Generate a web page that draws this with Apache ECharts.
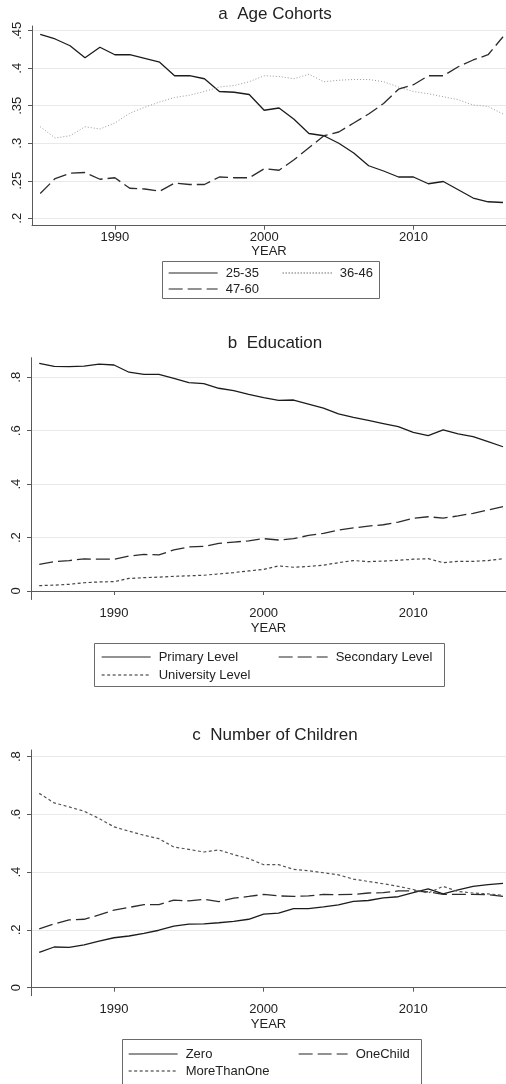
<!DOCTYPE html>
<html>
<head>
<meta charset="utf-8">
<script src="https://cdn.jsdelivr.net/npm/echarts@6/dist/echarts.min.js"></script>
<style>
  html, body { margin: 0; padding: 0; background: #fff; }
  #chart { width: 506px; height: 1084px; }
</style>
</head>
<body>
<div id="chart"></div>
<script>
// Survey years shared by all three panels
const years = [1985, 1986, 1987, 1988, 1989, 1990, 1991, 1992, 1993, 1994, 1995,
  1996, 1997, 1998, 1999, 2000, 2001, 2002, 2003, 2004, 2005, 2006, 2007, 2008,
  2009, 2010, 2011, 2012, 2013, 2014, 2015, 2016];

// Panel a: age cohorts (shares)
const age25to35 = [0.445, 0.439, 0.430, 0.414, 0.428, 0.418, 0.418, 0.413, 0.408, 0.390, 0.390,
  0.386, 0.369, 0.368, 0.365, 0.344, 0.347, 0.332, 0.313, 0.310, 0.300, 0.287, 0.270, 0.263,
  0.255, 0.255, 0.246, 0.249, 0.238, 0.227, 0.222, 0.221];
const age36to46 = [0.322, 0.307, 0.310, 0.322, 0.319, 0.327, 0.340, 0.348, 0.355, 0.361, 0.364,
  0.369, 0.375, 0.377, 0.382, 0.390, 0.389, 0.386, 0.392, 0.382, 0.384, 0.385, 0.385, 0.382,
  0.375, 0.369, 0.366, 0.362, 0.358, 0.351, 0.349, 0.339];
const age47to60 = [0.233, 0.253, 0.260, 0.261, 0.252, 0.254, 0.240, 0.239, 0.236, 0.247, 0.245,
  0.245, 0.255, 0.254, 0.254, 0.266, 0.264, 0.278, 0.294, 0.310, 0.315, 0.327, 0.339, 0.353,
  0.372, 0.378, 0.390, 0.390, 0.402, 0.411, 0.418, 0.442];

// Panel b: education level (shares)
const eduPrimary = [0.852, 0.841, 0.840, 0.842, 0.849, 0.846, 0.819, 0.811, 0.811, 0.796, 0.780,
  0.776, 0.759, 0.750, 0.736, 0.724, 0.714, 0.715, 0.700, 0.685, 0.663, 0.650, 0.639, 0.627,
  0.615, 0.594, 0.582, 0.603, 0.588, 0.578, 0.559, 0.540];
const eduSecondary = [0.100, 0.110, 0.114, 0.120, 0.119, 0.119, 0.131, 0.137, 0.135, 0.154, 0.165,
  0.167, 0.178, 0.183, 0.188, 0.196, 0.191, 0.196, 0.208, 0.216, 0.228, 0.236, 0.243, 0.248,
  0.258, 0.272, 0.278, 0.273, 0.281, 0.291, 0.303, 0.316];
const eduUniversity = [0.020, 0.022, 0.025, 0.031, 0.034, 0.035, 0.047, 0.050, 0.052, 0.055, 0.057,
  0.059, 0.064, 0.069, 0.075, 0.081, 0.094, 0.089, 0.092, 0.097, 0.106, 0.114, 0.110, 0.112,
  0.115, 0.119, 0.121, 0.106, 0.111, 0.111, 0.114, 0.121];

// Panel c: number of children (shares)
const kidsZero = [0.122, 0.141, 0.140, 0.148, 0.161, 0.173, 0.179, 0.188, 0.199, 0.213, 0.220,
  0.221, 0.225, 0.230, 0.237, 0.255, 0.258, 0.274, 0.274, 0.280, 0.287, 0.299, 0.302, 0.311,
  0.315, 0.329, 0.342, 0.325, 0.339, 0.351, 0.357, 0.361];
const kidsOne = [0.204, 0.221, 0.235, 0.237, 0.252, 0.269, 0.278, 0.288, 0.288, 0.303, 0.301,
  0.306, 0.298, 0.310, 0.316, 0.323, 0.318, 0.316, 0.318, 0.323, 0.322, 0.323, 0.328, 0.329,
  0.335, 0.335, 0.332, 0.323, 0.323, 0.323, 0.322, 0.316];
const kidsMore = [0.673, 0.640, 0.626, 0.611, 0.586, 0.557, 0.542, 0.528, 0.516, 0.487, 0.479,
  0.470, 0.477, 0.461, 0.447, 0.426, 0.426, 0.410, 0.405, 0.398, 0.391, 0.376, 0.368, 0.360,
  0.351, 0.340, 0.328, 0.351, 0.333, 0.328, 0.325, 0.320];

// Tick labels
const yearTicks = [1990, 2000, 2010];
const ageTicks = [0.2, 0.25, 0.3, 0.35, 0.4, 0.45];
const shareTicks = [0, 0.2, 0.4, 0.6, 0.8];

const FONT = '"Liberation Sans", Arial, Helvetica, sans-serif';
const AXIS_COLOR = '#5a5a5a';
const TEXT_COLOR = '#222';

function pairs(vals) {
  return years.map((y, i) => [y, vals[i]]);
}

function stataNum(v) {
  // Stata style: drop the leading zero (".25")
  return String(v).replace(/^0\./, '.');
}

function xAxisFor(gridIndex, labelMargin, nameGap) {
  return {
    type: 'value', gridIndex,
    min: 1984.45, max: 2016.2,
    name: 'YEAR', nameLocation: 'middle', nameGap,
    nameTextStyle: { fontFamily: FONT, fontSize: 13, color: TEXT_COLOR },
    axisLine: { show: true, lineStyle: { color: AXIS_COLOR, width: 1 } },
    axisTick: { show: true, length: 4, customValues: yearTicks, lineStyle: { color: AXIS_COLOR } },
    axisLabel: {
      customValues: yearTicks, margin: labelMargin,
      fontFamily: FONT, fontSize: 13, color: TEXT_COLOR,
      formatter: (v) => String(v)
    },
    splitLine: { show: false }
  };
}

function yAxisFor(gridIndex, min, max, ticks) {
  return {
    type: 'value', gridIndex, min, max,
    axisLine: { show: true, lineStyle: { color: AXIS_COLOR, width: 1 } },
    axisTick: { show: true, length: 4, customValues: ticks, lineStyle: { color: AXIS_COLOR } },
    axisLabel: {
      customValues: ticks, rotate: 90, margin: 8,
      fontFamily: FONT, fontSize: 13, color: TEXT_COLOR,
      formatter: stataNum
    },
    splitLine: { show: true, lineStyle: { color: '#e9e9e9', width: 1 } }
  };
}

function lineSeries(name, vals, axisIndex, color, width, dash) {
  return {
    type: 'line', name,
    xAxisIndex: axisIndex, yAxisIndex: axisIndex,
    data: pairs(vals),
    symbol: 'none', smooth: false, animation: false,
    lineStyle: { color, width, type: dash },
    itemStyle: { color }
  };
}

function legendFor(names, left, top, gap) {
  return {
    data: names, orient: 'vertical', left, top,
    padding: 0, itemGap: gap, itemWidth: 49, itemHeight: 14,
    selectedMode: false,
    // line-only keys in a softer grey; hide the marker in the middle of each key
    itemStyle: { opacity: 0 },
    lineStyle: { color: '#6e6e6e', width: 1.3 },
    textStyle: { fontFamily: FONT, fontSize: 13, color: TEXT_COLOR, lineHeight: 14, padding: [0, 0, 0, 3] }
  };
}

function titleFor(text, top) {
  return {
    text, left: 275, top, textAlign: 'center', padding: 0,
    textStyle: { fontFamily: FONT, fontSize: 17, fontWeight: 'normal', color: TEXT_COLOR, lineHeight: 20 }
  };
}

function frame(x, y, w, h) {
  return {
    type: 'rect', shape: { x, y, width: w, height: h },
    style: { fill: 'none', stroke: '#6a6a6a', lineWidth: 1 }, silent: true
  };
}

const SOLID = '#1c1c1c';
const DASHED = '#2c2c2c';
const LONG_DASH = [14, 5];
const SHORT_DASH = [3, 2.5];

const option = {
  backgroundColor: '#fff',
  animation: false,
  title: [
    titleFor('a  Age Cohorts', 4),
    titleFor('b  Education', 333),
    titleFor('c  Number of Children', 725)
  ],
  grid: [
    { left: 32, top: 26, width: 474, height: 199.7 },
    { left: 31, top: 357.7, width: 475, height: 241.8 },
    { left: 31, top: 750, width: 475, height: 245.7 }
  ],
  xAxis: [
    xAxisFor(0, 5, 17),
    xAxisFor(1, 7, 22),
    xAxisFor(2, 7, 22)
  ],
  yAxis: [
    yAxisFor(0, 0.1901, 0.4563, ageTicks),
    yAxisFor(1, -0.0318, 0.8734, shareTicks),
    yAxisFor(2, -0.0277, 0.8232, shareTicks)
  ],
  legend: [
    legendFor(['25-35', '47-60'], 168, 266, 2),
    legendFor(['36-46'], 282, 266, 2),
    legendFor(['Primary Level', 'University Level'], 101, 650, 4),
    legendFor(['Secondary Level'], 278, 650, 4),
    legendFor(['Zero', 'MoreThanOne'], 128, 1047, 3),
    legendFor(['OneChild'], 298, 1047, 3)
  ],
  graphic: [
    frame(162.5, 261.5, 217, 37),
    frame(94.5, 643.5, 350, 43),
    frame(122.5, 1039.5, 299, 60)
  ],
  series: [
    lineSeries('25-35', age25to35, 0, SOLID, 1.3, 'solid'),
    lineSeries('36-46', age36to46, 0, '#9a9a9a', 1, [1, 2]),
    lineSeries('47-60', age47to60, 0, DASHED, 1.3, LONG_DASH),

    lineSeries('Primary Level', eduPrimary, 1, SOLID, 1.3, 'solid'),
    lineSeries('Secondary Level', eduSecondary, 1, DASHED, 1.3, LONG_DASH),
    lineSeries('University Level', eduUniversity, 1, '#444', 1.2, SHORT_DASH),

    lineSeries('Zero', kidsZero, 2, SOLID, 1.3, 'solid'),
    lineSeries('OneChild', kidsOne, 2, DASHED, 1.3, LONG_DASH),
    lineSeries('MoreThanOne', kidsMore, 2, '#555', 1.2, SHORT_DASH)
  ]
};

const chart = echarts.init(document.getElementById('chart'), null, { renderer: 'canvas' });
chart.setOption(option);
</script>
</body>
</html>
